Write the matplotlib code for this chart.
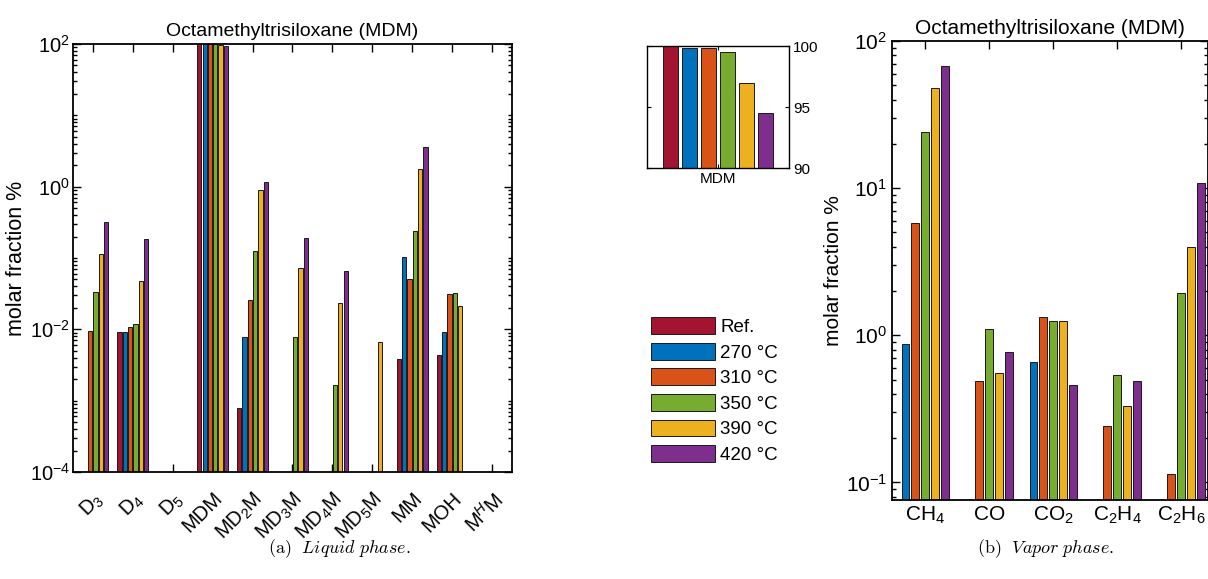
import numpy as np
import matplotlib
matplotlib.use('Agg')
import matplotlib.pyplot as plt
from matplotlib.ticker import LogLocator, NullFormatter, FixedLocator
from matplotlib.patches import Patch

plt.rcParams['font.family'] = ['Liberation Sans', 'DejaVu Sans']
plt.rcParams['mathtext.fontset'] = 'custom'
plt.rcParams['mathtext.rm'] = 'Liberation Sans'
plt.rcParams['mathtext.it'] = 'Liberation Sans:italic'

nan = np.nan

# liquid phase composition, molar fraction %
liq_species = ['D$_3$', 'D$_4$', 'D$_5$', 'MDM', 'MD$_2$M', 'MD$_3$M',
               'MD$_4$M', 'MD$_5$M', 'MM', 'MOH', 'M$^H$M']
liq_ref = [nan, 0.0091, nan, 100.0, 0.00078, nan, nan, nan, 0.0038, 0.0043, nan]
liq_270 = [nan, 0.0093, nan, 99.85, 0.0077, nan, nan, nan, 0.104, 0.0093, nan]
liq_310 = [0.0095, 0.0107, nan, 99.85, 0.026, nan, nan, nan, 0.050, 0.0313, nan]
liq_350 = [0.033, 0.012, nan, 99.53, 0.125, 0.0077, 0.00165, nan, 0.24, 0.032, nan]
liq_390 = [0.114, 0.048, nan, 97.0, 0.91, 0.073, 0.0231, 0.0067, 1.79, 0.0214, nan]
liq_420 = [0.316, 0.185, nan, 94.48, 1.15, 0.193, 0.066, nan, 3.56, nan, nan]

# vapor phase composition, molar fraction %
vap_species = ['CH$_4$', 'CO', 'CO$_2$', 'C$_2$H$_4$', 'C$_2$H$_6$']
vap_270 = [0.877, nan, 0.655, nan, nan]
vap_310 = [5.84, 0.486, 1.33, 0.242, 0.114]
vap_350 = [24.0, 1.10, 1.26, 0.537, 1.95]
vap_390 = [47.7, 0.551, 1.26, 0.329, 4.01]
vap_420 = [68.0, 0.77, 0.462, 0.492, 10.9]

labels = ['Ref.', '270 °C', '310 °C', '350 °C', '390 °C', '420 °C']
colors = ['#A2142F', '#0072BD', '#D95319', '#77AC30', '#EDB120', '#7E2F8E']
edge = '#1a1a1a'


def grouped_bars(ax, series, cols, bottom):
    n = len(series)
    gw = min(0.8, n / (n + 1.5))
    step = gw / n
    x = np.arange(1, len(series[0]) + 1)
    for k, (vals, c) in enumerate(zip(series, cols)):
        vals = np.asarray(vals, dtype=float)
        ok = ~np.isnan(vals)
        off = (k - (n - 1) / 2) * step
        ax.bar(x[ok] + off, vals[ok] - bottom, width=step * 0.8, bottom=bottom,
               color=c, edgecolor=edge, linewidth=0.7, zorder=2)
    return x


def style_log(ax, labsize):
    ax.tick_params(which='both', direction='in', top=True, right=True, width=1.0)
    ax.tick_params(which='major', length=6, labelsize=labsize)
    ax.tick_params(which='minor', length=3)
    for s in ax.spines.values():
        s.set_linewidth(1.3)


fig = plt.figure(figsize=(12.08, 5.79), dpi=100)

# (a) liquid phase
ax1 = fig.add_axes([0.0604, 0.1848, 0.3634, 0.7392])
liq = [liq_ref, liq_270, liq_310, liq_350, liq_390, liq_420]
x1 = grouped_bars(ax1, liq, colors, 1e-6)
ax1.set_yscale('log')
ax1.set_ylim(1e-4, 1e2)
ax1.set_xlim(0.5, 11.5)
ax1.yaxis.set_major_locator(FixedLocator([1e-4, 1e-2, 1e0, 1e2]))
ax1.yaxis.set_minor_locator(LogLocator(base=10, subs=np.arange(1, 10), numticks=20))
ax1.yaxis.set_minor_formatter(NullFormatter())
ax1.set_xticks(x1)
ax1.set_xticklabels(liq_species, rotation=45, ha='right', va='top',
                    rotation_mode='anchor', fontsize=15)
style_log(ax1, 14.5)
ax1.tick_params(axis='x', pad=12)
ax1.tick_params(axis='y', pad=2)
ax1.set_ylabel('molar fraction %', fontsize=15.5, labelpad=2)
ax1.set_title('Octamethyltrisiloxane (MDM)', fontsize=14, pad=6)

# zoom on the MDM group, linear scale
axi = fig.add_axes([0.5356, 0.7098, 0.1175, 0.2107])
grouped_bars(axi, [[v[3]] for v in liq], colors, 0.0)
axi.set_ylim(90, 100)
axi.set_xlim(0.502, 1.498)
axi.set_xticks([1])
axi.set_xticklabels(['MDM'], fontsize=12)
axi.set_yticks([90, 95, 100])
axi.yaxis.tick_right()
axi.tick_params(which='both', direction='in', top=True, left=True, right=True,
                length=3, labelsize=11, pad=3)
for s in axi.spines.values():
    s.set_linewidth(1.0)

handles = [Patch(facecolor=c, edgecolor=edge, linewidth=0.7) for c in colors]
fig.legend(handles, labels, loc='upper left', bbox_to_anchor=(0.5325, 0.465),
           frameon=False, fontsize=13.5, handlelength=3.4, handleheight=1.0,
           handletextpad=0.3, labelspacing=0.36, borderaxespad=0)

# (b) vapor phase
ax2 = fig.add_axes([0.7384, 0.1364, 0.262, 0.7927])
vap = [vap_270, vap_310, vap_350, vap_390, vap_420]
x2 = grouped_bars(ax2, vap, colors[1:], 1e-3)
ax2.set_yscale('log')
ax2.set_ylim(0.076, 1e2)
ax2.set_xlim(0.48, 5.43)
ax2.yaxis.set_major_locator(FixedLocator([1e-1, 1e0, 1e1, 1e2]))
ax2.yaxis.set_minor_locator(LogLocator(base=10, subs=np.arange(2, 10), numticks=20))
ax2.yaxis.set_minor_formatter(NullFormatter())
ax2.set_xticks(x2)
ax2.set_xticklabels(vap_species, fontsize=14)
style_log(ax2, 15)
ax2.set_ylabel('molar fraction %', fontsize=15, labelpad=2)
ax2.set_title('Octamethyltrisiloxane (MDM)', fontsize=15, pad=5)

# sub-captions in the document font
cap = dict(fontsize=13, ha='center', va='center', math_fontfamily='cm')
fig.text(0.281, 0.052, r'$\mathrm{(a)}\ \ \mathit{Liquid\ phase.}$', **cap)
fig.text(0.866, 0.052, r'$\mathrm{(b)}\ \ \mathit{Vapor\ phase.}$', **cap)

fig.savefig('out.png', dpi=100)
